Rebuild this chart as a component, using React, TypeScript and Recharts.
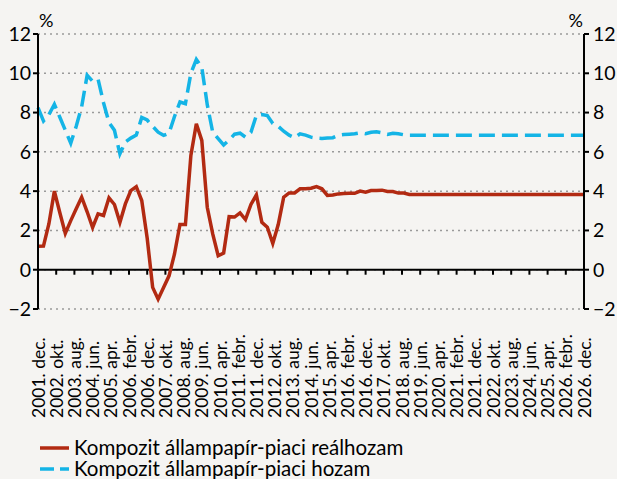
import React from 'react';
import { LineChart, Line, XAxis, YAxis, CartesianGrid, ReferenceLine, Legend } from 'recharts';

// month index from 2001. dec. (0) to 2026. dec. (300)
const months = [
  0, 3, 6, 9, 12, 15, 18, 21, 24, 27, 30, 33, 36, 39, 42, 45, 48, 51, 54, 57,
  60, 63, 66, 69, 72, 75, 78, 81, 84, 87, 90, 93, 96, 99, 102, 105, 108, 111, 114, 117,
  120, 123, 126, 129, 132, 135, 138, 141, 144, 147, 150, 153, 156, 159, 162, 165, 168, 171, 174, 177,
  180, 183, 186, 189, 192, 195, 198, 201, 204, 300,
];

const realYield = [
  1.19, 1.2, 2.34, 4.0, 2.9, 1.85, 2.5, 3.1, 3.69, 2.95, 2.15, 2.84, 2.76, 3.66, 3.32, 2.41, 3.35, 4.03, 4.23, 3.52,
  1.6, -0.9, -1.5, -0.9, -0.31, 0.8, 2.3, 2.3, 5.82, 7.43, 6.58, 3.18, 1.82, 0.71, 0.85, 2.7, 2.68, 2.89, 2.55, 3.32,
  3.81, 2.41, 2.16, 1.34, 2.3, 3.69, 3.91, 3.91, 4.12, 4.12, 4.15, 4.23, 4.12, 3.78, 3.8, 3.86, 3.88, 3.89, 3.89, 4.0,
  3.95, 4.03, 4.03, 4.05, 3.98, 3.98, 3.9, 3.9, 3.83, 3.83,
];

const nominalYield = [
  8.25, 7.57, 7.9, 8.42, 7.76, 7.1, 6.44, 7.3, 8.3, 9.9, 9.6, 9.7, 8.5, 7.5, 7.1, 5.9, 6.5, 6.7, 6.85, 7.75,
  7.62, 7.3, 7.0, 6.84, 6.95, 7.8, 8.54, 8.45, 10.0, 10.7, 10.3, 8.4, 7.0, 6.67, 6.35, 6.6, 6.9, 6.95, 6.75, 7.0,
  7.86, 7.9, 7.85, 7.45, 7.3, 7.05, 6.85, 6.72, 6.92, 6.85, 6.75, 6.7, 6.68, 6.7, 6.72, 6.84, 6.88, 6.9, 6.92, 6.97,
  6.92, 7.0, 7.02, 6.97, 6.89, 6.95, 6.92, 6.87, 6.85, 6.85,
];

const tickLabels = [
  '2001. dec.', '2002. okt.', '2003. aug.', '2004. jun.', '2005. apr.', '2006. febr.', '2006. dec.',
  '2007. okt.', '2008. aug.', '2009. jun.', '2010. apr.', '2011. febr.', '2011. dec.', '2012. okt.',
  '2013. aug.', '2014. jun.', '2015. apr.', '2016. febr.', '2016. dec.', '2017. okt.', '2018. aug.',
  '2019. jun.', '2020. apr.', '2021. febr.', '2021. dec.', '2022. okt.', '2023. aug.', '2024. jun.',
  '2025. apr.', '2026. febr.', '2026. dec.',
];

const yTicks = [-2, 0, 2, 4, 6, 8, 10, 12];
const seriesNames = ['Kompozit állampapír-piaci reálhozam', 'Kompozit állampapír-piaci hozam'];

const data = months.map((m, i) => ({ m, real: realYield[i], nominal: nominalYield[i] }));
const xTicks = tickLabels.map((_, i) => i * 10);

const W = 617;
const H = 479;
const TOP = 34;
const PLOT_BOTTOM = 309;
const PLOT_H = PLOT_BOTTOM - TOP;
const ZERO_UP = (PLOT_H * 2) / 14;
const RED = '#B22A12';
const BLUE = '#14B4E6';
const BG = '#F5F4F2';
const FONT = 'Lato, "DejaVu Sans", sans-serif';

const XTick = (props: any) => {
  const { x, y, payload } = props;
  const label = tickLabels[Math.round(payload.value / 10)];
  const tx = x + 6.5;
  const ty = y + 109;
  return (
    <g>
      <line x1={x} x2={x} y1={y - ZERO_UP} y2={y - ZERO_UP + 5} stroke="#000" strokeWidth={2} />
      <text x={tx} y={ty} transform={`rotate(-90, ${tx}, ${ty})`} textAnchor="start" fontSize={17.5} fontFamily={FONT} fill="#000">
        {label}
      </text>
    </g>
  );
};

const fmt = (v: number) => (v < 0 ? `\u2212${Math.abs(v)}` : `${v}`);

const renderLegend = () => (
  <div style={{ fontFamily: FONT, fontSize: 20.5, color: '#000', lineHeight: '21px' }}>
    <div style={{ display: 'flex', alignItems: 'center', height: 21 }}>
      <svg width={35} height={21} style={{ flex: 'none' }}>
        <line x1={1} x2={30} y1={11} y2={11} stroke={RED} strokeWidth={3.5} />
      </svg>
      <span>{seriesNames[0]}</span>
    </div>
    <div style={{ display: 'flex', alignItems: 'center', height: 21 }}>
      <svg width={35} height={21} style={{ flex: 'none' }}>
        <line x1={1} x2={30} y1={11} y2={11} stroke={BLUE} strokeWidth={3.5} strokeDasharray="14 6" />
      </svg>
      <span>{seriesNames[1]}</span>
    </div>
  </div>
);

const PercentLabel = (side: 'left' | 'right') => (props: any) => {
  const vb = props.viewBox || {};
  const x = side === 'left' ? vb.x + vb.width + 1 : vb.x - 1;
  return (
    <text x={x} y={vb.y - 7} textAnchor={side === 'left' ? 'start' : 'end'} fontSize={18} fontFamily={FONT} fill="#000">
      %
    </text>
  );
};

export default function App() {
  return (
    <div style={{ position: 'absolute', left: 0, top: 0, width: W, height: H, background: BG }}>
      <LineChart width={W} height={H} data={data} margin={{ top: TOP, right: 0, bottom: 0, left: 0 }}>
        <CartesianGrid horizontal vertical={false} stroke="#9a9a9a" strokeWidth={1.5} strokeDasharray="2 4" yAxisId="left" />
        <XAxis
          dataKey="m"
          type="number"
          domain={[0, 300]}
          ticks={xTicks}
          interval={0}
          height={H - PLOT_BOTTOM}
          axisLine={false}
          tickLine={false}
          tickSize={0}
          tickMargin={0}
          tick={<XTick />}
        />
        <YAxis
          yAxisId="left"
          orientation="left"
          width={38}
          domain={[-2, 12]}
          ticks={yTicks}
          interval={0}
          tickFormatter={fmt}
          axisLine={{ stroke: '#000', strokeWidth: 2 }}
          tickLine={{ stroke: '#000', strokeWidth: 2 }}
          tickSize={5}
          tickMargin={2}
          tick={{ fill: '#000', fontSize: 19.5, fontFamily: FONT }}
          label={{ content: PercentLabel('left') }}
        />
        <YAxis
          yAxisId="right"
          orientation="right"
          width={33}
          domain={[-2, 12]}
          ticks={yTicks}
          interval={0}
          tickFormatter={fmt}
          axisLine={{ stroke: '#000', strokeWidth: 2 }}
          tickLine={{ stroke: '#000', strokeWidth: 2 }}
          tickSize={5}
          tickMargin={4}
          tick={{ fill: '#000', fontSize: 19.5, fontFamily: FONT }}
          label={{ content: PercentLabel('right') }}
        />
        <ReferenceLine yAxisId="left" y={0} stroke="#000" strokeWidth={2} />
        <Line
          yAxisId="right"
          type="linear"
          dataKey="nominal"
          name={seriesNames[1]}
          stroke={BLUE}
          strokeWidth={3.5}
          strokeDasharray="16 7"
          dot={false}
          isAnimationActive={false}
        />
        <Line
          yAxisId="left"
          type="linear"
          dataKey="real"
          name={seriesNames[0]}
          stroke={RED}
          strokeWidth={3.5}
          dot={false}
          isAnimationActive={false}
        />
        <Legend
          layout="vertical"
          align="center"
          verticalAlign="middle"
          content={renderLegend}
          wrapperStyle={{ position: 'absolute', left: 39, top: 437, width: 560 }}
        />
      </LineChart>
    </div>
  );
}
